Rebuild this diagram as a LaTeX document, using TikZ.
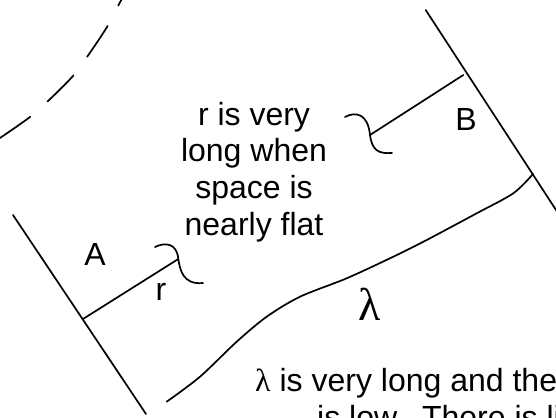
\documentclass[tikz,border=0pt]{standalone}
\usepackage{fontspec}
\setmainfont{Liberation Sans}
\newfontfamily\greekfont{Liberation Serif}
\begin{document}
\begin{tikzpicture}[x=1pt,y=-1pt,
  stroke/.style={line width=1.7pt, line cap=round, line join=round},
  lbl/.style={font=\fontsize{32}{36.8}\selectfont, inner sep=0pt},
  bigl/.style={font=\greekfont\fontsize{46}{50}\selectfont, inner sep=0pt}]
\useasboundingbox (0,0) rectangle (556,417);
\clip (0,0) rectangle (556,417);
% boundary lines
\coordinate (Rt) at (425.7,10);
\coordinate (Rb) at (586,256);
\coordinate (Lt) at (13,215);
\coordinate (Lb) at (146,414);
\draw[stroke] (Rt) -- (Rb);
\draw[stroke] (Lt) -- (Lb);
% radius segments
\coordinate (A0) at (83,319);
\coordinate (A1) at (178.3,259);
\coordinate (B0) at (463.3,75);
\coordinate (B1) at (370,135);
\draw[stroke] (A0) -- (A1);
\draw[stroke] (B0) -- (B1);
% braces
\draw[stroke] (155,247) .. controls (165,242) and (177,243) .. (A1)
  .. controls (180,270) and (183,285) .. (203,283);
\draw[stroke] (345,117) .. controls (356,111) and (368,114) .. (B1)
  .. controls (372,150) and (378,154) .. (392,153);
% lambda curve
\draw[stroke] plot[smooth, tension=0.5] coordinates {(166.7,401.7) (200,376.7) (236.7,341.7) (266.7,316.7) (300,296.7) (346.7,278.3) (393.3,256.7) (426.7,240) (476.7,213.3) (513.3,193.3) (533,174)};
% dashed arc
\draw[stroke, dash pattern=on 37pt off 23pt] plot[smooth, tension=0.6] coordinates {(0,138) (30,117) (47,102) (73,76) (87,57) (107,27) (118,6) (123,-3)};
% labels
\node[lbl, anchor=base] (la) at (95,265) {A};
\node[lbl, anchor=base] (lb) at (466,130) {B};
\node[lbl, anchor=base] (lr) at (161,300) {r};
\node[bigl, anchor=base] (ll) at (369.5,320) {λ};
\node[lbl, align=center] (txt) at (254,172) {r is very\\long when\\space is\\nearly flat};
\node[lbl, anchor=base west] (bt1) at (255,391.7) {{\greekfont λ} is very long and the};
\node[lbl, anchor=base west] (bt2) at (317,428.5) {is low.\ \ There is li};
\end{tikzpicture}
\end{document}
